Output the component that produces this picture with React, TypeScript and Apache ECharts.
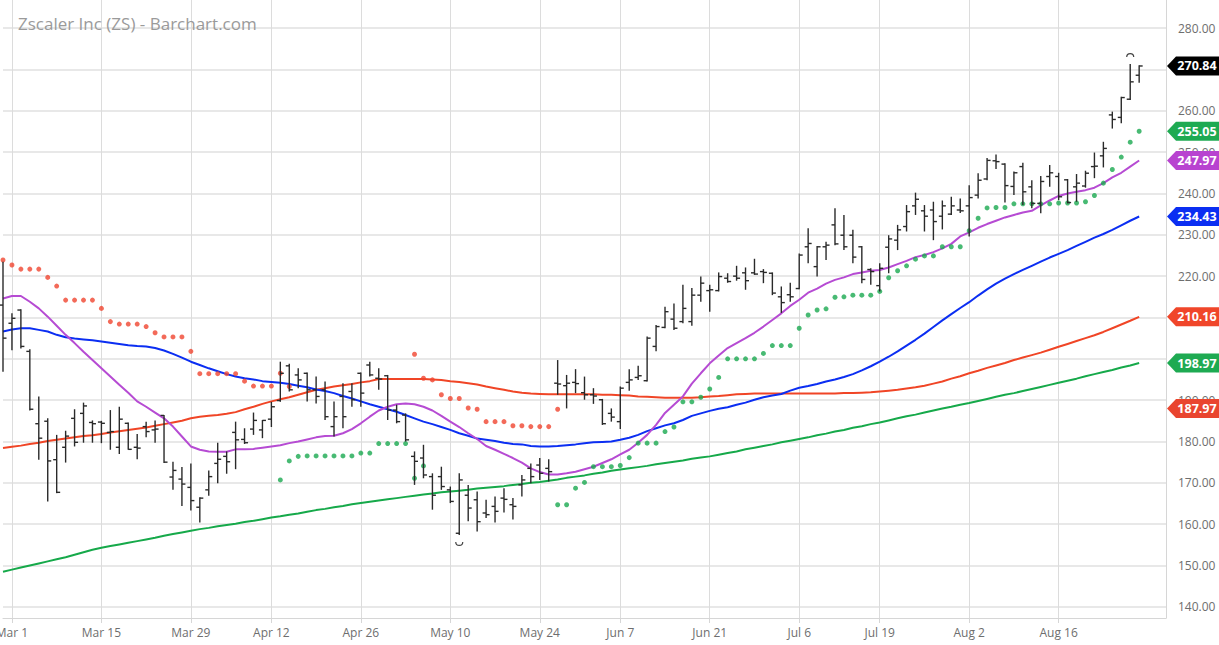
import React, { useEffect, useRef } from "react";
import * as echarts from "echarts";

const TITLE = "Zscaler Inc (ZS) - Barchart.com";
const START_DATE = "2021-02-26";
const END_DATE = "2021-08-27";
const HOLIDAYS = ["2021-04-02", "2021-05-31", "2021-07-05"];
const PAD_CATEGORIES = ["pad1", "pad2", "pad3"];

const X_LABEL_DATES = [
  "2021-03-01", "2021-03-15", "2021-03-29", "2021-04-12", "2021-04-26", "2021-05-10", "2021-05-24",
  "2021-06-07", "2021-06-21", "2021-07-06", "2021-07-19", "2021-08-02", "2021-08-16",
];
const X_LABELS = ["Mar 1", "Mar 15", "Mar 29", "Apr 12", "Apr 26", "May 10", "May 24", "Jun 7", "Jun 21", "Jul 6", "Jul 19", "Aug 2", "Aug 16"];

const Y_MIN = 137.3;
const Y_MAX = 286.8;

const OPEN = [
  213.0, 208.6, 211.8, 201.8, 184.3, 184.9, 175.6, 178.6, 185.6, 186.8,
  184.6, 184.7, 182.2, 178.6, 184.4, 178.6, 183.6, 182.8, 186.3, 171.4,
  170.9, 168.9, 164.1, 168.3, 174.7, 176.4, 182.2, 180.5, 183.0, 182.8,
  185.4, 189.9, 198.3, 196.1, 196.5, 192.5, 192.5, 183.6, 190.9, 192.1,
  196.5, 198.5, 195.3, 195.9, 187.6, 186.4, 176.4, 176.0, 171.5, 171.5,
  168.3, 157.8, 167.0, 165.9, 162.7, 164.3, 166.3, 164.7, 169.5, 173.5,
  174.3, 173.5, 194.1, 193.5, 194.3, 191.8, 191.3, 190.1, 186.8, 184.8,
  194.3, 195.5, 194.7, 203.0, 207.6, 209.6, 209.0, 209.0, 215.4, 216.5,
  216.5, 219.5, 220.0, 220.8, 220.8, 221.1, 220.7, 215.0, 215.5, 217.0,
  227.1, 222.3, 227.1, 232.4, 229.9, 229.9, 227.1, 221.6, 217.7, 227.0,
  228.7, 232.0, 237.0, 235.8, 236.0, 234.5, 235.0, 236.0, 237.0, 239.6,
  243.5, 247.9, 247.1, 241.7, 246.5, 241.6, 237.6, 244.1, 244.1, 243.3,
  241.6, 241.8, 246.5, 249.1, 259.0, 258.4, 262.8, 268.6,
];
const HIGH = [
  223.5, 211.0, 212.0, 202.3, 190.9, 185.6, 181.6, 182.6, 187.8, 189.4,
  185.1, 185.0, 187.6, 188.4, 184.6, 181.8, 184.8, 185.1, 186.4, 175.1,
  173.8, 174.7, 166.5, 173.0, 179.7, 177.6, 184.8, 183.2, 187.0, 185.2,
  189.6, 199.3, 198.8, 197.7, 196.7, 195.7, 194.5, 189.7, 194.1, 194.1,
  196.7, 199.3, 197.7, 196.1, 188.9, 186.8, 177.6, 179.2, 172.3, 173.9,
  169.1, 172.3, 169.5, 167.9, 165.9, 166.7, 168.7, 166.3, 171.9, 174.7,
  176.0, 175.7, 199.7, 196.1, 197.5, 195.7, 192.9, 190.3, 188.0, 193.3,
  197.5, 198.3, 205.4, 208.2, 212.6, 213.4, 217.9, 217.1, 219.9, 217.9,
  220.9, 220.7, 222.5, 222.1, 224.2, 221.7, 220.9, 217.5, 218.4, 225.5,
  231.6, 227.3, 228.3, 236.4, 234.8, 231.2, 227.3, 221.9, 223.1, 229.9,
  232.4, 237.2, 240.2, 237.2, 238.0, 238.3, 239.2, 238.8, 242.0, 244.9,
  248.6, 249.4, 247.3, 245.3, 247.4, 243.2, 244.2, 246.9, 245.0, 243.5,
  244.7, 245.5, 249.9, 252.5, 259.8, 263.4, 271.3, 271.0,
];
const LOW = [
  196.9, 202.1, 202.5, 187.5, 175.6, 165.5, 167.5, 174.9, 178.8, 179.7,
  179.7, 179.6, 178.0, 177.0, 178.0, 175.7, 181.0, 179.7, 174.8, 168.3,
  164.4, 163.3, 160.4, 166.9, 169.9, 172.2, 173.3, 179.4, 181.6, 180.8,
  183.5, 189.6, 192.1, 192.9, 189.7, 189.2, 185.2, 181.2, 183.2, 188.4,
  188.4, 195.7, 192.5, 185.2, 184.4, 180.0, 169.5, 171.1, 163.5, 168.3,
  165.1, 157.4, 160.7, 158.2, 161.5, 160.4, 162.8, 161.1, 166.7, 169.9,
  170.7, 170.3, 191.3, 188.0, 191.7, 190.1, 189.1, 184.0, 184.8, 183.0,
  192.3, 194.9, 194.5, 201.8, 207.4, 207.0, 208.6, 208.0, 213.8, 211.4,
  216.3, 218.4, 218.9, 216.7, 220.3, 218.3, 215.4, 211.1, 213.8, 216.8,
  223.1, 219.9, 223.9, 227.5, 226.3, 223.1, 218.3, 217.9, 216.3, 220.7,
  226.3, 230.8, 234.8, 230.8, 228.7, 231.3, 234.8, 235.3, 229.6, 238.8,
  243.2, 245.9, 237.8, 239.6, 237.2, 236.4, 235.2, 241.6, 238.4, 237.6,
  238.0, 241.4, 243.7, 246.3, 255.7, 257.0, 262.6, 266.8,
];
const CLOSE = [
  205.0, 209.8, 203.0, 187.8, 180.8, 175.3, 167.7, 181.3, 179.8, 188.6,
  184.3, 184.4, 182.4, 185.4, 178.1, 178.4, 182.4, 183.0, 175.0, 173.0,
  169.7, 165.7, 166.3, 171.5, 175.7, 175.1, 180.4, 179.7, 185.1, 185.1,
  188.4, 196.5, 192.5, 194.9, 192.5, 190.9, 186.0, 186.0, 186.0, 190.1,
  191.7, 196.1, 195.1, 187.6, 184.8, 180.4, 175.2, 171.9, 167.0, 169.1,
  165.5, 170.7, 163.9, 160.6, 162.3, 163.1, 166.0, 164.3, 170.7, 171.5,
  172.3, 172.7, 193.9, 194.1, 194.0, 191.3, 191.0, 184.3, 185.9, 192.9,
  194.9, 195.9, 205.0, 207.8, 211.4, 207.4, 212.2, 215.4, 218.3, 216.7,
  219.9, 218.7, 219.5, 218.9, 220.5, 220.9, 215.9, 213.6, 215.0, 225.1,
  227.9, 227.1, 227.5, 227.8, 227.1, 224.6, 219.2, 221.1, 221.9, 229.0,
  231.2, 235.6, 238.6, 234.5, 233.2, 237.0, 237.0, 235.8, 239.0, 243.2,
  248.0, 247.7, 241.9, 245.0, 240.4, 237.6, 242.9, 245.0, 239.2, 237.8,
  242.5, 244.9, 246.6, 250.9, 257.9, 263.2, 267.0, 270.84,
];

const SAR_DOWN = [
  223.9, 222.7, 221.7, 221.7, 221.7, 219.7, 217.6, 214.2, 214.2, 214.2,
  214.2, 212.2, 209.0, 208.4, 208.4, 208.4, 207.8, 206.3, 205.3, 205.3,
  205.3, 201.8, 196.4, 196.4, 196.4, 196.4, 196.4, 194.6, 193.4, 193.4,
  193.4, 196.5, 193.3, null, null, null, null, null, null, null,
  null, null, null, null, null, null, 201.1, 195.3, 194.9, 191.3,
  190.4, 190.4, 188.1, 187.8, 184.8, 184.8, 184.8, 183.8, 183.8, 183.6,
  183.6, 183.6, 187.8, null, null, null, null, null, null, null,
  null, null, null, null, null, null, null, null, null, null,
  null, null, null, null, null, null, null, null, null, null,
  null, null, null, null, null, null, null, null, null, null,
  null, null, null, null, null, null, null, null, null, null,
  null, null, null, null, null, null, null, null, null, null,
  null, null, null, null, null, null, null, null,
];
const SAR_UP = [
  null, null, null, null, null, null, null, null, null, null,
  null, null, null, null, null, null, null, null, null, null,
  null, null, null, null, null, null, null, null, null, null,
  null, 170.7, 175.3, 176.4, 176.5, 176.5, 176.5, 176.5, 176.5, 176.5,
  177.2, 177.2, 179.5, 179.5, 179.5, 179.5, 171.1, 174.1, null, null,
  null, null, null, null, null, null, null, null, null, null,
  null, null, 164.7, 164.7, 168.7, 170.1, 173.9, 173.9, 173.9, 174.2,
  176.1, 179.6, 179.6, 179.6, 182.4, 183.5, 189.6, 189.6, 190.7, 192.7,
  195.5, 200.0, 200.0, 200.0, 200.0, 201.3, 203.2, 203.2, 203.2, 207.4,
  210.6, 211.8, 212.1, 214.9, 215.0, 215.4, 215.4, 215.4, 216.3, 219.6,
  221.3, 222.5, 224.1, 224.9, 224.9, 227.1, 227.1, 227.1, 231.0, 234.0,
  236.5, 236.6, 236.6, 237.5, 237.5, 237.5, 237.5, 237.5, 237.7, 237.7,
  237.7, 238.0, 239.5, 242.5, 245.8, 248.8, 252.4, 255.05,
];

const MA_SHORT = [
  214.6, 215.2, 215.2, 213.8, 212.2, 210.2, 208.0, 205.8, 203.8, 201.7,
  199.7, 197.7, 195.7, 193.7, 191.8, 189.7, 188.4, 187.0, 185.6, 183.6,
  181.2, 178.8, 178.0, 177.6, 177.5, 177.5, 178.1, 178.1, 178.2, 178.5,
  178.8, 179.1, 179.6, 180.0, 180.5, 181.0, 181.3, 181.4, 182.0, 183.0,
  184.4, 186.0, 187.5, 188.4, 189.0, 189.2, 189.0, 188.4, 187.5, 186.2,
  184.8, 183.5, 182.0, 180.6, 178.9, 178.0, 177.0, 176.0, 174.9, 173.5,
  172.6, 172.0, 172.0, 172.3, 172.7, 173.3, 173.9, 174.8, 175.7, 176.9,
  178.0, 179.7, 181.6, 184.0, 186.9, 188.9, 190.9, 194.0, 196.5, 198.9,
  200.8, 202.6, 203.8, 205.0, 206.3, 207.8, 209.4, 211.0, 212.8, 214.3,
  216.0, 217.0, 218.2, 219.1, 219.7, 220.5, 220.9, 221.3, 221.5, 222.1,
  222.9, 223.7, 224.6, 225.1, 225.8, 226.7, 227.8, 229.6, 230.6, 231.7,
  232.6, 233.4, 234.2, 234.8, 235.4, 235.8, 237.1, 238.3, 239.4, 240.0,
  240.4, 240.8, 241.4, 242.5, 243.9, 245.0, 246.5, 247.97,
];
const MA_50 = [
  206.6, 207.1, 207.4, 207.4, 207.0, 206.6, 205.8, 205.2, 204.9, 204.7,
  204.5, 204.2, 203.9, 203.6, 203.3, 203.1, 203.0, 202.6, 202.0, 201.2,
  200.3, 199.3, 198.5, 197.7, 197.0, 196.3, 195.7, 195.3, 195.0, 194.6,
  194.4, 194.2, 193.9, 193.5, 193.1, 192.6, 192.2, 191.7, 191.0, 190.4,
  189.7, 189.0, 188.4, 187.8, 187.2, 186.4, 185.6, 184.8, 184.2, 183.5,
  182.8, 182.0, 181.4, 180.7, 180.4, 180.1, 179.7, 179.4, 179.3, 178.9,
  178.8, 178.8, 178.9, 179.1, 179.3, 179.6, 179.8, 179.9, 180.0, 180.4,
  180.9, 181.6, 182.5, 183.2, 183.9, 184.4, 185.2, 186.2, 186.8, 187.4,
  187.9, 188.3, 188.9, 189.4, 190.1, 190.7, 191.1, 191.5, 192.3, 193.0,
  193.4, 193.9, 194.5, 195.0, 195.6, 196.3, 197.2, 198.2, 199.3, 200.5,
  201.8, 203.2, 204.6, 206.1, 207.7, 209.3, 210.8, 212.3, 213.7, 215.3,
  216.8, 218.2, 219.4, 220.5, 221.5, 222.5, 223.5, 224.5, 225.4, 226.3,
  227.3, 228.3, 229.3, 230.2, 231.2, 232.3, 233.4, 234.43,
];
const MA_100 = [
  178.4, 178.7, 179.0, 179.4, 179.7, 180.1, 180.4, 180.7, 181.0, 181.3,
  181.5, 181.8, 182.2, 182.5, 182.8, 183.1, 183.4, 183.8, 184.2, 184.6,
  185.0, 185.6, 186.0, 186.2, 186.4, 186.7, 187.1, 187.8, 188.4, 189.1,
  189.7, 190.2, 190.7, 191.3, 191.9, 192.5, 192.9, 193.3, 193.6, 193.9,
  194.3, 194.6, 195.1, 195.1, 195.1, 195.1, 195.1, 195.1, 195.0, 194.9,
  194.6, 194.4, 194.1, 193.8, 193.3, 192.9, 192.5, 192.1, 191.8, 191.6,
  191.5, 191.4, 191.4, 191.4, 191.4, 191.4, 191.4, 191.3, 191.3, 191.2,
  191.1, 190.9, 190.8, 190.7, 190.6, 190.6, 190.6, 190.6, 190.7, 190.9,
  191.0, 191.2, 191.4, 191.5, 191.6, 191.6, 191.6, 191.6, 191.6, 191.6,
  191.6, 191.6, 191.6, 191.6, 191.7, 191.7, 191.8, 191.9, 192.1, 192.3,
  192.5, 192.8, 193.1, 193.5, 194.0, 194.5, 195.2, 195.8, 196.5, 197.1,
  197.8, 198.4, 199.0, 199.7, 200.3, 200.9, 201.5, 202.2, 202.9, 203.6,
  204.3, 205.0, 205.7, 206.5, 207.4, 208.3, 209.2, 210.16,
];
const MA_200 = [
  148.5, 149.0, 149.5, 150.0, 150.5, 151.0, 151.5, 152.0, 152.6, 153.2,
  153.8, 154.3, 154.7, 155.1, 155.5, 155.9, 156.3, 156.7, 157.2, 157.6,
  158.0, 158.4, 158.8, 159.1, 159.5, 159.8, 160.1, 160.5, 160.8, 161.2,
  161.6, 161.9, 162.3, 162.6, 163.0, 163.4, 163.7, 164.1, 164.4, 164.8,
  165.1, 165.4, 165.7, 166.0, 166.3, 166.6, 166.9, 167.2, 167.4, 167.7,
  167.9, 168.1, 168.3, 168.6, 168.8, 169.0, 169.2, 169.5, 169.7, 170.0,
  170.2, 170.5, 170.8, 171.2, 171.5, 171.8, 172.2, 172.5, 172.9, 173.2,
  173.5, 173.8, 174.1, 174.5, 174.8, 175.1, 175.4, 175.8, 176.1, 176.4,
  176.8, 177.2, 177.6, 178.1, 178.5, 178.9, 179.3, 179.8, 180.2, 180.6,
  181.0, 181.5, 181.9, 182.4, 182.8, 183.3, 183.7, 184.2, 184.6, 185.1,
  185.6, 186.1, 186.5, 187.0, 187.5, 188.0, 188.4, 188.9, 189.3, 189.8,
  190.3, 190.8, 191.3, 191.7, 192.2, 192.7, 193.2, 193.7, 194.2, 194.7,
  195.2, 195.8, 196.3, 196.8, 197.3, 197.9, 198.4, 198.97,
];
const EXTRA_TAG_VALUE = 187.97;

const COLORS = {
  bar: "#2a2a2a",
  maShort: "#b64bd3",
  ma50: "#0b2ef2",
  ma100: "#f04526",
  ma200: "#16a94a",
  sarDown: "#f0452f",
  sarUp: "#1aa950",
  grid: "#e0e0e0",
  axisText: "#6e6e6e",
};

function tradingDays(): string[] {
  const out: string[] = [];
  let t = Date.parse(START_DATE + "T00:00:00Z");
  const end = Date.parse(END_DATE + "T00:00:00Z");
  while (t <= end) {
    const d = new Date(t);
    const dow = d.getUTCDay();
    const s = d.toISOString().slice(0, 10);
    if (dow !== 0 && dow !== 6 && HOLIDAYS.indexOf(s) < 0) out.push(s);
    t += 86400000;
  }
  return out;
}

const GRID_LEFT = 3;
const GRID_RIGHT = 53;
const GRID_TOP = 0;
const GRID_BOTTOM = 27;

export default function App() {
  const ref = useRef<HTMLDivElement>(null);

  useEffect(() => {
    document.body.style.margin = "0";
    if (!ref.current) return;
    const chart = echarts.init(ref.current, null, { renderer: "svg" });
    const days = tradingDays();
    const categories = days.concat(PAD_CATEGORIES);
    const isLabel = (_i: number, v: string) => X_LABEL_DATES.indexOf(v) >= 0;

    const last = (a: (number | null)[]) => a[a.length - 1] as number;
    const tags = [
      { value: last(CLOSE), color: "#000000" },
      { value: last(SAR_UP), color: "#1eaa52" },
      { value: last(MA_SHORT), color: "#b843d0" },
      { value: last(MA_50), color: "#0b2ef2" },
      { value: last(MA_100), color: "#f0462a" },
      { value: last(MA_200), color: "#1eaa52" },
      { value: EXTRA_TAG_VALUE, color: "#e9452f" },
    ];
    // axis labels that sit fully under a price tag are not visible in the reference
    const coveredByTag = (v: number) => tags.some((t) => Math.abs(t.value - v) < 1.5);

    const ohlc = OPEN.map((o, i) => [i, o, HIGH[i], LOW[i], CLOSE[i]]);
    let hiIdx = 0;
    let loIdx = 0;
    HIGH.forEach((h, i) => { if (h > HIGH[hiIdx]) hiIdx = i; });
    LOW.forEach((l, i) => { if (l < LOW[loIdx]) loIdx = i; });
    const extremes = [[hiIdx, HIGH[hiIdx], 1], [loIdx, LOW[loIdx], -1]];

    const lineSeries = (name: string, data: number[], color: string) => ({
      name,
      type: "line",
      data,
      showSymbol: false,
      symbol: "none",
      smooth: false,
      lineStyle: { color, width: 2 },
      z: 3,
    });

    const option: any = {
      animation: false,
      backgroundColor: "#ffffff",
      textStyle: { fontFamily: "Open Sans" },
      title: {
        text: TITLE,
        left: 13,
        top: 10,
        textStyle: { color: "#9a9a9a", fontSize: 17, fontWeight: "normal", fontFamily: "Open Sans" },
      },
      grid: {
        left: GRID_LEFT,
        right: GRID_RIGHT,
        top: GRID_TOP,
        bottom: GRID_BOTTOM,
        containLabel: false,
        outerBoundsMode: "none",
      },
      xAxis: {
        type: "category",
        data: categories,
        boundaryGap: false,
        axisLine: { show: true, lineStyle: { color: "#d6d6d6", width: 1 } },
        axisTick: { show: true, interval: isLabel, length: 5, lineStyle: { color: "#d6d6d6" } },
        axisLabel: {
          interval: isLabel,
          formatter: (v: string) => {
            const k = X_LABEL_DATES.indexOf(v);
            return k >= 0 ? X_LABELS[k] : "";
          },
          color: COLORS.axisText,
          fontSize: 12,
          margin: 8,
          fontFamily: "Open Sans",
        },
        splitLine: { show: true, interval: isLabel, lineStyle: { color: "#dcdcdc", width: 1 } },
      },
      yAxis: {
        type: "value",
        position: "right",
        min: Y_MIN,
        max: Y_MAX,
        splitNumber: 15,
        axisLine: { show: true, lineStyle: { color: "#d6d6d6", width: 1 } },
        axisTick: { show: false },
        axisLabel: {
          formatter: (v: number) => (coveredByTag(v) ? "" : v.toFixed(2)),
          color: COLORS.axisText,
          fontSize: 12,
          margin: 12,
          showMinLabel: false,
          showMaxLabel: false,
          fontFamily: "Open Sans",
        },
        splitLine: {
          show: true,
          showMinLine: false,
          showMaxLine: false,
          lineStyle: { color: COLORS.grid, width: 1.5 },
        },
      },
      series: [
        lineSeries("MA 200", MA_200, COLORS.ma200),
        lineSeries("MA 100", MA_100, COLORS.ma100),
        lineSeries("MA 50", MA_50, COLORS.ma50),
        lineSeries("MA short", MA_SHORT, COLORS.maShort),
        {
          name: "Price",
          type: "custom",
          data: ohlc,
          encode: { x: 0, y: [1, 2, 3, 4] },
          z: 5,
          renderItem: (_params: any, api: any) => {
            const i = api.value(0);
            const ph = api.coord([i, api.value(2)]);
            const pl = api.coord([i, api.value(3)]);
            const po = api.coord([i, api.value(1)]);
            const pc = api.coord([i, api.value(4)]);
            const x = ph[0];
            const style = { stroke: COLORS.bar, lineWidth: 1.4 };
            return {
              type: "group",
              children: [
                { type: "line", shape: { x1: x, y1: ph[1], x2: x, y2: pl[1] }, style },
                { type: "line", shape: { x1: x - 3.5, y1: po[1], x2: x, y2: po[1] }, style },
                { type: "line", shape: { x1: x, y1: pc[1], x2: x + 3.5, y2: pc[1] }, style },
              ],
            };
          },
        },
        {
          name: "SAR down",
          type: "scatter",
          data: SAR_DOWN.map((v, i) => [i, v]),
          symbol: "circle",
          symbolSize: 5,
          itemStyle: { color: COLORS.sarDown },
          z: 4,
        },
        {
          name: "SAR up",
          type: "scatter",
          data: SAR_UP.map((v, i) => [i, v]),
          symbol: "circle",
          symbolSize: 5,
          itemStyle: { color: COLORS.sarUp },
          z: 4,
        },
        {
          name: "Extremes",
          type: "custom",
          data: extremes,
          encode: { x: 0, y: 1 },
          z: 6,
          renderItem: (_params: any, api: any) => {
            const p = api.coord([api.value(0), api.value(1)]);
            const dir = api.value(2);
            const up = dir > 0;
            return {
              type: "arc",
              shape: {
                cx: p[0],
                cy: up ? p[1] - 7 : p[1] + 7,
                r: 3.5,
                startAngle: up ? Math.PI : 0,
                endAngle: up ? Math.PI * 2 : Math.PI,
                clockwise: true,
              },
              style: { stroke: "#444", fill: "none", lineWidth: 1.2 },
            };
          },
        },
      ],
    };

    chart.setOption(option);

    const W = chart.getWidth();
    const axisX = W - GRID_RIGHT;
    const graphics = tags.map((t) => {
      const y = chart.convertToPixel({ yAxisIndex: 0 }, t.value) as number;
      const h = 9.5;
      return {
        type: "group",
        z: 100,
        children: [
          {
            type: "polygon",
            shape: {
              points: [
                [axisX + 1, y],
                [axisX + 10, y - h],
                [W, y - h],
                [W, y + h],
                [axisX + 10, y + h],
              ],
            },
            style: { fill: t.color },
            z: 100,
          },
          {
            type: "text",
            x: axisX + 31,
            y: y,
            style: {
              text: t.value.toFixed(2),
              fill: "#ffffff",
              fontSize: 12.5,
              fontWeight: "bold",
              fontFamily: "Open Sans",
              align: "center",
              verticalAlign: "middle",
            },
            z: 101,
          },
        ],
      };
    });
    chart.setOption({ graphic: graphics });

    return () => {
      chart.dispose();
    };
  }, []);

  return <div ref={ref} style={{ width: "1219px", height: "645px" }} />;
}
